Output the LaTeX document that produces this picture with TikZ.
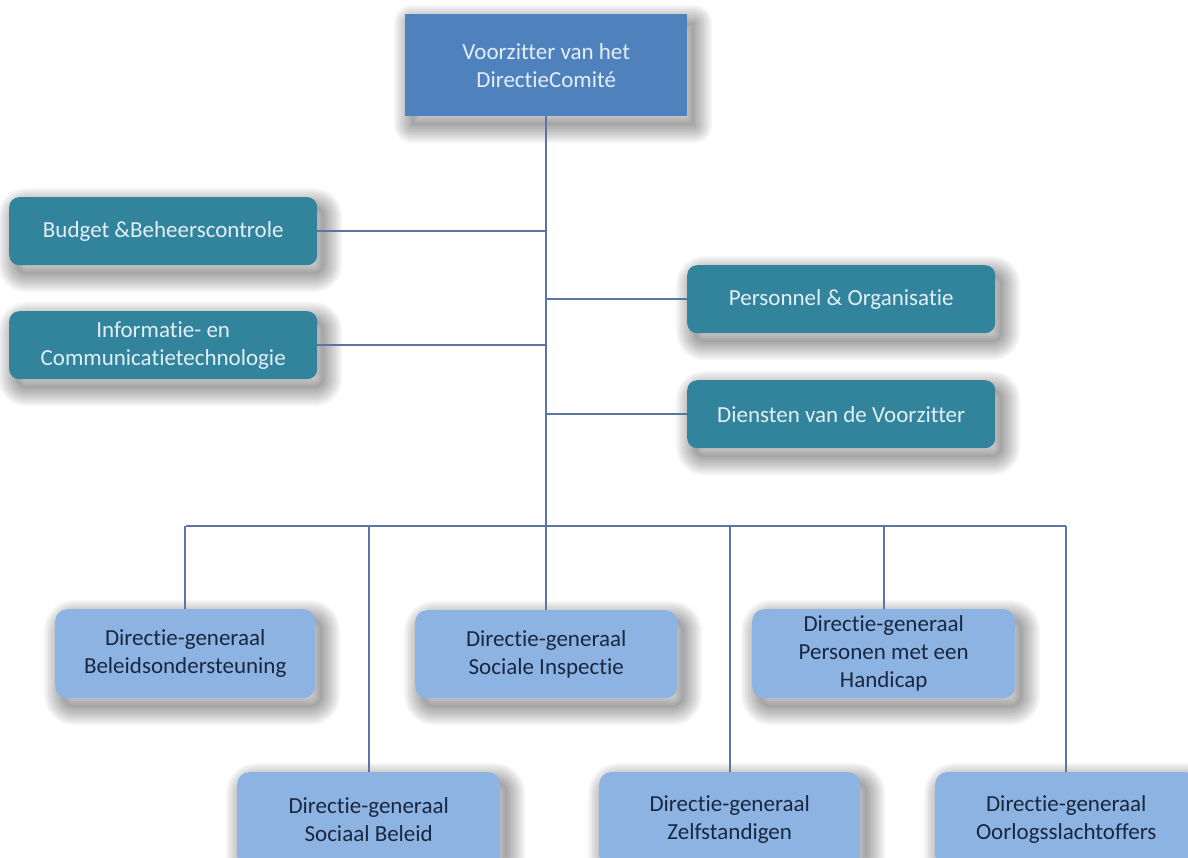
\documentclass[tikz,border=0pt]{standalone}
\usepackage{fontspec}
\setmainfont[Ligatures={NoCommon}]{Carlito}
\definecolor{topblue}{HTML}{4F81BD}
\definecolor{tealbox}{HTML}{31849B}
\definecolor{lightbox}{HTML}{8DB3E2}
\definecolor{linecol}{HTML}{5B76A6}
\definecolor{darktext}{HTML}{1A2740}
\definecolor{lighttext}{HTML}{E2EFF7}
\begin{document}
\begin{tikzpicture}[x=1pt,y=-1pt,
  sl/.style={preaction={draw=black, line join=round, draw opacity=0.04, line width=#1,
      transform canvas={xshift=7pt, yshift=-9pt}}},
  sf/.style={preaction={fill=black, fill opacity=0.05,
      transform canvas={xshift=7pt, yshift=-9pt}}},
  softshadow/.style={sf, sl=36pt, sl=32pt, sl=28pt, sl=24pt, sl=20pt, sl=16pt, sl=12pt, sl=8pt, sl=4pt},
  box/.style={anchor=north west, inner sep=0pt, align=center,
    font=\fontsize{23}{28}\selectfont, softshadow},
  topbox/.style={box, fill=topblue, text=lighttext},
  tealnode/.style={box, fill=tealbox, text=lighttext, rounded corners=10pt},
  dgbox/.style={box, fill=lightbox, text=darktext, rounded corners=12pt},
  conn/.style={draw=linecol, line width=1.6pt}]
\useasboundingbox[fill=white] (0,0) rectangle (1188,857);

\node[topbox, minimum width=282pt, minimum height=102pt] (top) at (405,14) {Voorzitter van het\\DirectieComité};

\node[tealnode, minimum width=308pt, minimum height=68pt] (budget) at (9,197) {Budget \&Beheerscontrole};
\node[tealnode, minimum width=308pt, minimum height=68pt] (ict) at (9,311) {Informatie- en\\Communicatietechnologie};
\node[tealnode, minimum width=308pt, minimum height=68pt] (pers) at (687,265) {Personnel \& Organisatie};
\node[tealnode, minimum width=308pt, minimum height=68pt] (dienst) at (687,380) {Diensten van de Voorzitter};

\node[dgbox, minimum width=260pt, minimum height=89pt] (beleid) at (55,609) {Directie-generaal\\Beleidsondersteuning};
\node[dgbox, minimum width=262pt, minimum height=88pt] (insp) at (415,610) {Directie-generaal\\Sociale Inspectie};
\node[dgbox, minimum width=263pt, minimum height=89pt] (handi) at (752,609) {Directie-generaal\\Personen met een\\Handicap};
\node[dgbox, minimum width=263pt, minimum height=95pt] (sociaal) at (237,772) {Directie-generaal\\Sociaal Beleid};
\node[dgbox, minimum width=261pt, minimum height=95pt] (zelf) at (599,772) {Directie-generaal\\Zelfstandigen};
\node[dgbox, minimum width=262pt, minimum height=95pt] (oorlog) at (935,772) {Directie-generaal\\Oorlogsslachtoffers};

\coordinate (busL) at (186,526);
\coordinate (busR) at (1066,526);

\draw[conn] (top.south) -- (insp.north);
\draw[conn] (busL) -- (busR);
\draw[conn] (budget.east) -- (budget.east -| top.south);
\draw[conn] (ict.east) -- (ict.east -| top.south);
\draw[conn] (pers.west) -- (pers.west -| top.south);
\draw[conn] (dienst.west) -- (dienst.west -| top.south);
\draw[conn] (beleid.north) -- (beleid.north |- busL);
\draw[conn] (sociaal.north) -- (sociaal.north |- busL);
\draw[conn] (zelf.north) -- (zelf.north |- busL);
\draw[conn] (handi.north) -- (handi.north |- busL);
\draw[conn] (oorlog.north) -- (oorlog.north |- busL);
\end{tikzpicture}
\end{document}
